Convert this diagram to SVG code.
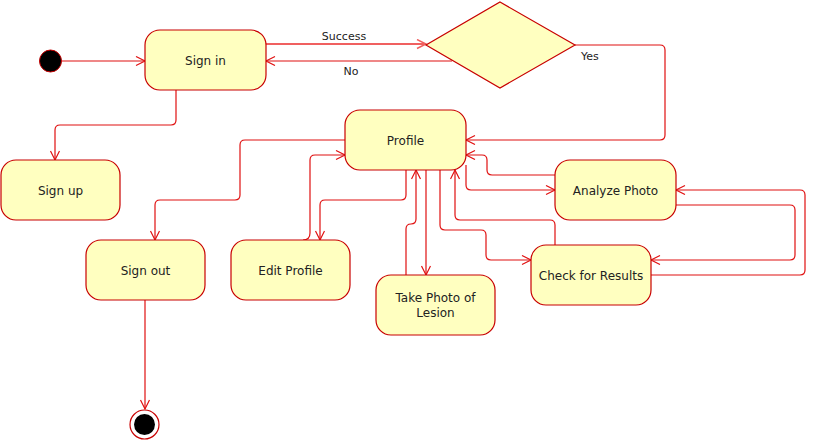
<svg xmlns="http://www.w3.org/2000/svg" width="816" height="441" viewBox="0 0 816 441">
<defs>
<style>
.st{fill:#ffffc0;stroke:#c80000;stroke-width:1.2}
.t{font-family:"DejaVu Sans",Verdana,sans-serif;font-size:12px;fill:#222;text-anchor:middle}
.l{font-family:"DejaVu Sans",Verdana,sans-serif;font-size:11px;fill:#222}
.e{fill:none;stroke:#e01010;stroke-width:1.2;marker-end:url(#a)}
</style>
<marker id="a" markerWidth="12" markerHeight="12" refX="10" refY="5" orient="auto" markerUnits="userSpaceOnUse">
<path d="M1,0.5 L10,5 L1,9.5" fill="none" stroke="#e01010" stroke-width="1.2"/>
</marker>
<marker id="b" markerWidth="12" markerHeight="12" refX="10" refY="5" orient="auto" markerUnits="userSpaceOnUse">
<path d="M1,0.5 L10,5 L1,9.5" fill="none" stroke="#f06060" stroke-width="1.5"/>
</marker>
</defs>
<rect width="816" height="441" fill="#fff"/>
<g id="connectors">
<path class="e" d="M62,61 L145,61"/>
<path d="M266,44 L426,44" fill="none" stroke="#f06060" stroke-width="2.2" marker-end="url(#b)"/>
<path class="e" d="M452,61 L266,61"/>
<path class="e" d="M575,45 L660,45 Q665,45 665,50 L665,135 Q665,140 660,140 L466,140"/>
<path class="e" d="M176,90 L176,120 Q176,125 171,125 L60,125 Q55,125 55,130 L55,160"/>
<path class="e" d="M345,140 L245,140 Q240,140 240,145 L240,195 Q240,200 235,200 L160,200 Q155,200 155,205 L155,240"/>
<path class="e" d="M145,300 L145,409"/>
<path class="e" d="M303,240 Q310,240 310,233 L310,160 Q310,155 315,155 L345,155"/>
<path class="e" d="M406,170 L406,195 Q406,200 401,200 L325,200 Q320,200 320,205 L320,240"/>
<path class="e" d="M426,170 L426,275"/>
<path class="e" d="M406,275 L406,229 Q406,224 411,224 Q416,224 416,219 L416,170"/>
<path class="e" d="M466,165 L466,185 Q466,190 471,190 L555,190"/>
<path class="e" d="M555,175 L492,175 Q487,175 487,170 L487,160 Q487,155 482,155 L466,155"/>
<path class="e" d="M555,245 L555,225 Q555,220 550,220 L460,220 Q455,220 455,215 L455,170"/>
<path class="e" d="M440,170 L440,225 Q440,230 445,230 L481,230 Q486,230 486,235 L486,255 Q486,260 491,260 L531,260"/>
<path class="e" d="M676,205 L790,205 Q795,205 795,210 L795,255 Q795,260 790,260 L651,260"/>
<path class="e" d="M651,275 L800,275 Q805,275 805,270 L805,195 Q805,190 800,190 L676,190"/>
<text class="l" x="344" y="39.5" text-anchor="middle">Success</text>
<text class="l" x="351" y="75" text-anchor="middle">No</text>
<text class="l" x="581" y="60">Yes</text>
</g>
<g id="start"><circle cx="50.5" cy="61" r="11" fill="#000" stroke="#c80000" stroke-width="1"/></g>
<g id="signin"><rect class="st" x="145" y="30" width="121" height="60" rx="15"/><text class="t" x="205.5" y="64.5">Sign in</text></g>
<g id="decision"><polygon class="st" points="500,2 575,45 500,88 426,45"/></g>
<g id="signup"><rect class="st" x="1" y="160" width="119" height="60" rx="15"/><text class="t" x="60.5" y="194.5">Sign up</text></g>
<g id="profile"><rect class="st" x="345" y="110" width="121" height="60" rx="15"/><text class="t" x="405.5" y="144.5">Profile</text></g>
<g id="signout"><rect class="st" x="86" y="240" width="119" height="60" rx="15"/><text class="t" x="145.5" y="274.5">Sign out</text></g>
<g id="editprofile"><rect class="st" x="231" y="240" width="119" height="60" rx="15"/><text class="t" x="290.5" y="274.5">Edit Profile</text></g>
<g id="takephoto"><rect class="st" x="376" y="275" width="119" height="60" rx="15"/><text class="t" x="435.5" y="302">Take Photo of</text><text class="t" x="435.5" y="317">Lesion</text></g>
<g id="analyze"><rect class="st" x="555" y="160" width="121" height="60" rx="15"/><text class="t" x="615.5" y="194.5">Analyze Photo</text></g>
<g id="check"><rect class="st" x="531" y="245" width="120" height="60" rx="15"/><text class="t" x="591" y="279.5">Check for Results</text></g>
<g id="end"><circle cx="144.5" cy="424.5" r="14.5" fill="#fff" stroke="#c80000" stroke-width="1.2"/><circle cx="144.5" cy="424.5" r="10.5" fill="#000"/></g>
</svg>
